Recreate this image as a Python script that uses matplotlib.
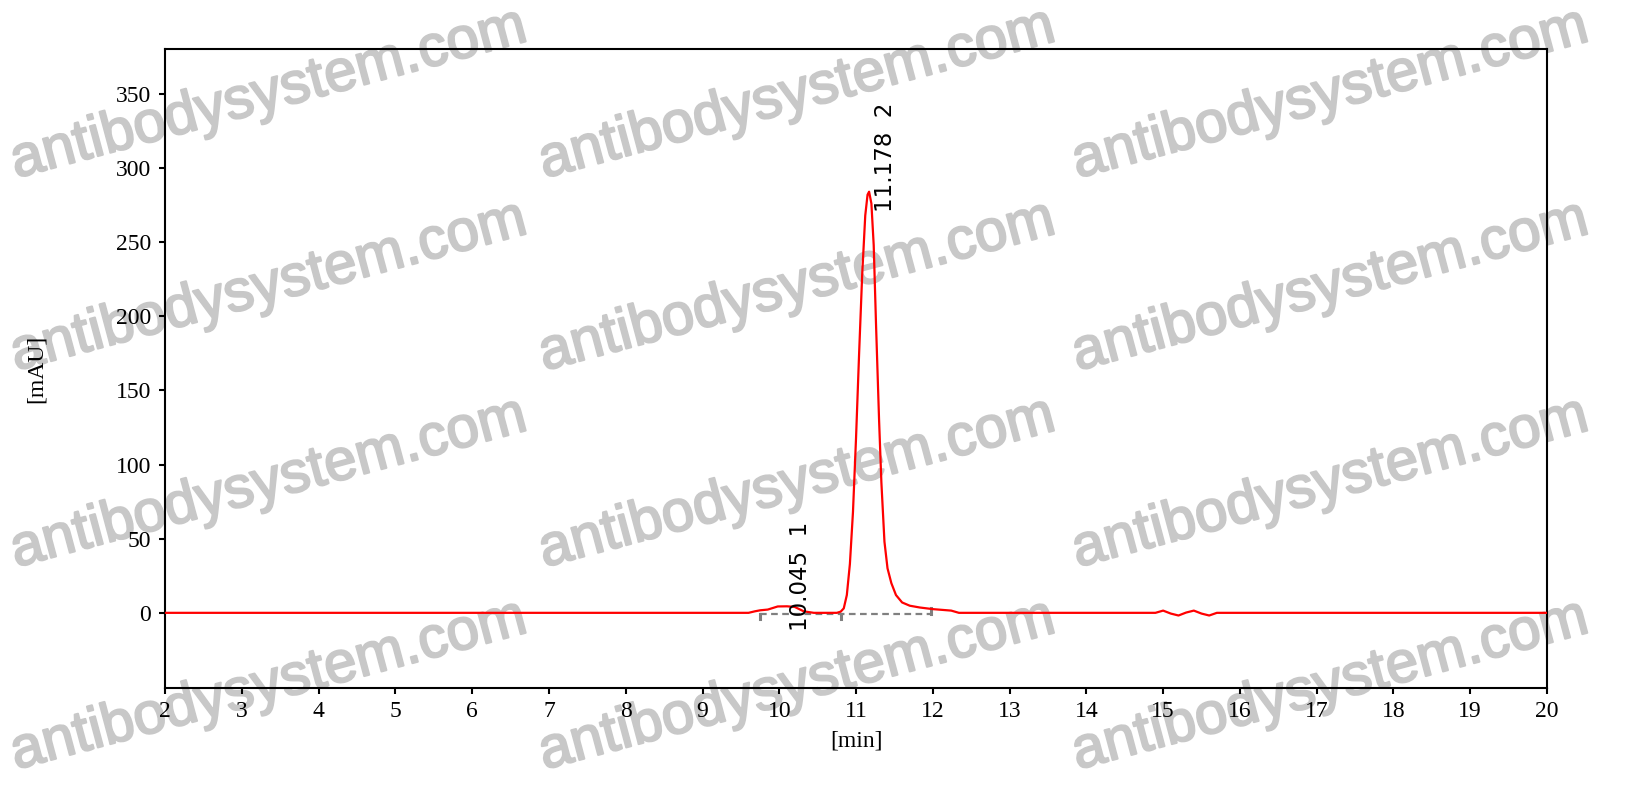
import numpy as np
import matplotlib.pyplot as plt
import matplotlib.patheffects as pe

# chromatogram trace
time_min = [2.0, 9.6, 9.68, 9.75, 9.85, 9.98, 10.1, 10.2, 10.32, 10.45, 10.75,
            10.8, 10.84, 10.88, 10.92, 10.96, 11.0, 11.04, 11.08, 11.12, 11.15,
            11.17, 11.2, 11.23, 11.26, 11.3, 11.33, 11.37, 11.41, 11.46, 11.52,
            11.6, 11.7, 11.83, 12.0, 12.24, 12.34, 14.9, 15.0, 15.1, 15.2, 15.3,
            15.4, 15.5, 15.6, 15.7, 20.0]
signal_mau = [0.0, 0.0, 1.0, 1.7, 2.2, 4.3, 4.4, 4.0, 1.0, 0.0, 0.0,
              0.8, 3.0, 12.0, 33.0, 68.0, 118.0, 175.0, 228.0, 268.0, 282.0,
              284.0, 276.0, 248.0, 195.0, 130.0, 88.0, 48.0, 30.0, 20.0, 12.0,
              7.0, 4.8, 3.6, 2.5, 1.5, 0.0, 0.0, 1.5, -0.5, -1.8, 0.2,
              1.5, -0.5, -1.8, 0.0, 0.0]

# integration baseline: start, split, end
base_t = [9.75, 10.8, 11.97]
base_tick_dir = [-1, -1, 1]

peak_rt = [10.045, 11.178]
peak_no = [1, 2]
label_x = [10.27, 11.38]
label_y = [-12, 270]

fig = plt.figure(figsize=(16.51, 8.09), dpi=100)
ax = fig.add_axes([0.100, 0.149, 0.837, 0.790])
ax.set_facecolor('none')

ax.plot(time_min, signal_mau, color='red', linewidth=1.6, zorder=4)

ax.plot([base_t[0], base_t[-1]], [-0.5, -0.5], color='gray', linestyle=(0, (3, 2)),
        linewidth=1.6, zorder=3)
for t, d in zip(base_t, base_tick_dir):
    ax.plot([t, t], [-0.5, -0.5 + 3.5 * d], color='gray', linewidth=2.2, zorder=3)

for rt, n, lx, ly in zip(peak_rt, peak_no, label_x, label_y):
    ax.text(lx, ly, f'{rt:.3f}  {n}', rotation=90, ha='center', va='bottom',
            fontsize=16.5, family='DejaVu Sans', zorder=5)

ax.set_xlim(2, 20)
ax.set_ylim(-51, 380)
ax.set_xticks(range(2, 21))
ax.set_yticks(range(0, 351, 50))
for lab in ax.get_xticklabels() + ax.get_yticklabels():
    lab.set_family('Liberation Serif')
    lab.set_fontsize(17)
ax.tick_params(direction='out', length=4, width=1.5)
ax.tick_params(axis='y', pad=6)
ax.tick_params(axis='x', pad=5)
for s in ax.spines.values():
    s.set_linewidth(1.5)
ax.set_xlabel('[min]', family='Liberation Serif', fontsize=17)
ax.set_ylabel('[mAU]', family='Liberation Serif', fontsize=17)
ax.xaxis.set_label_coords(0.5, -0.066)
ax.yaxis.set_label_coords(-0.086, 0.5)

# watermark grid
for cx in [0.163, 0.483, 0.806]:
    for cy in [0.117, 0.355, 0.598, 0.848]:
        fig.text(cx, 1 - cy, 'antibodysystem.com', rotation=15, ha='center', va='center',
                 fontsize=42, family='Liberation Sans', color='#c8c8c8', zorder=-1,
                 path_effects=[pe.withStroke(linewidth=1.5, foreground='#c8c8c8')])

fig.savefig('out.png', dpi=100)
